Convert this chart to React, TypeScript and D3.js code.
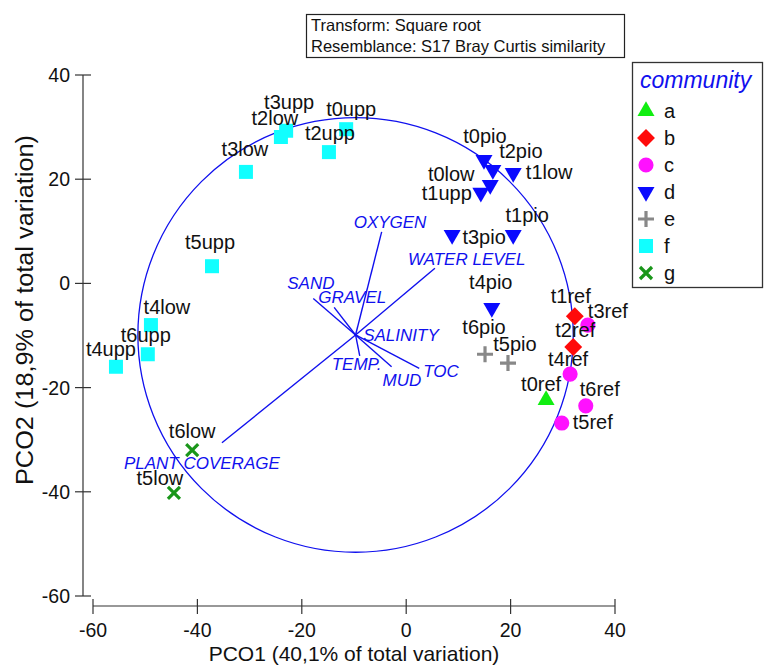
import React from "react";
import * as d3 from "d3";

// ---------- data ----------
const sampleNames = [
  "t0upp", "t2upp", "t3upp", "t2low", "t3low", "t5upp", "t4low", "t6upp", "t4upp",
  "t6low", "t5low",
  "t0pio", "t2pio", "t1low", "t0low", "t1upp", "t3pio", "t1pio", "t4pio",
  "t6pio", "t5pio",
  "t3ref", "t4ref", "t6ref", "t5ref",
  "t1ref", "t2ref",
  "t0ref",
];
const sampleCommunity = [
  "f", "f", "f", "f", "f", "f", "f", "f", "f",
  "g", "g",
  "d", "d", "d", "d", "d", "d", "d", "d",
  "e", "e",
  "c", "c", "c", "c",
  "b", "b",
  "a",
];
const pco1 = [
  -11.5, -14.8, -23.0, -24.0, -30.7, -37.2, -48.9, -49.5, -55.6,
  -41.0, -44.5,
  14.9, 16.6, 20.5, 16.1, 14.3, 8.8, 20.5, 16.4,
  15.1, 19.5,
  34.8, 31.4, 34.4, 29.8,
  32.3, 32.0,
  26.8,
];
const pco2 = [
  29.6, 25.2, 29.3, 28.1, 21.4, 3.3, -8.0, -13.6, -16.0,
  -32.0, -40.2,
  23.7, 21.8, 21.2, 18.9, 17.4, 9.3, 9.3, -4.7,
  -13.6, -15.3,
  -8.0, -17.4, -23.5, -26.8,
  -6.3, -12.2,
  -22.4,
];

const communityKeys = ["a", "b", "c", "d", "e", "f", "g"];

const vectorNames = ["OXYGEN", "WATER LEVEL", "SAND", "GRAVEL", "SALINITY", "TEMP.", "MUD", "TOC", "PLANT COVERAGE"];
const vectorX = [-4.7, 5.5, -17.8, -13.8, -9.2, -8.9, -2.8, 2.5, -35.3];
const vectorY = [9.9, 2.9, -2.9, -4.6, -10.2, -13.9, -16.0, -16.3, -30.6];
const vectorOrigin = [-9.7, -9.9];
const circleRadius = 41.7;

const xTicks = [-60, -40, -20, 0, 20, 40];
const yTicks = [-60, -40, -20, 0, 20, 40];

const xTitle = "PCO1 (40,1% of total variation)";
const yTitle = "PCO2 (18,9% of total variation)";
const infoLines = ["Transform: Square root", "Resemblance: S17 Bray Curtis similarity"];
const legendTitle = "community";

// ---------- layout / style ----------
const W = 765;
const H = 665;
const FONT = "'Liberation Sans', Arial, Helvetica, sans-serif";
const BLUE = "#1010ee";

const colors: Record<string, string> = {
  a: "#11ee11",
  b: "#ff0a0a",
  c: "#ff11ff",
  d: "#0a0aff",
  e: "#888888",
  f: "#11ffff",
  g: "#1a961a",
};

// label offsets (px): [dx of label centre, dy of baseline] relative to the point
const labelOffsets: Record<string, [number, number]> = {
  t0upp: [5, -13], t2upp: [1, -12], t3upp: [3, -22], t2low: [-6, -12], t3low: [-1, -16],
  t5upp: [-2, -17], t4low: [16, -11], t6upp: [-2, -12], t4upp: [-5, -11],
  t6low: [0, -12], t5low: [-14, -8],
  t0pio: [1, -17], t2pio: [28, -12], t1low: [36, 6], t0low: [-39, -4], t1upp: [-34, 7],
  t3pio: [32, 9], t1pio: [14, -13], t4pio: [-1, -19],
  t6pio: [-1, -20], t5pio: [7, -12],
  t3ref: [20, -7], t4ref: [-2, -8], t6ref: [14, -10], t5ref: [31, 6],
  t1ref: [-4, -13], t2ref: [2, -10], t0ref: [-5, -9],
};
// vector label offsets (px): start of text relative to arrow tip
const vectorLabelOffsets: Record<string, [number, number]> = {
  OXYGEN: [-28, -4],
  "WATER LEVEL": [-27, -3],
  SAND: [-26, -10],
  GRAVEL: [-16, -4],
  SALINITY: [5, 4],
  "TEMP.": [-28, 14],
  MUD: [-9, 19],
  TOC: [4, 9],
  "PLANT COVERAGE": [-98, 26],
};

const x = d3.scaleLinear().domain([-60, 40]).range([93, 615]);
const y = d3.scaleLinear().domain([-60, 40]).range([596, 75]);

function Marker({ k, cx, cy }: { k: string; cx: number; cy: number }) {
  const c = colors[k];
  const tr = `translate(${cx},${cy})`;
  if (k === "a") {
    return <path transform={tr} d={d3.symbol(d3.symbolTriangle, 125)()!} fill={c} />;
  }
  if (k === "d") {
    return <path transform={`${tr} rotate(180)`} d={d3.symbol(d3.symbolTriangle, 125)()!} fill={c} />;
  }
  if (k === "b") {
    return <path transform={`${tr} rotate(45)`} d={d3.symbol(d3.symbolSquare, 160)()!} fill={c} />;
  }
  if (k === "c") {
    return <path transform={tr} d={d3.symbol(d3.symbolCircle, 180)()!} fill={c} />;
  }
  if (k === "f") {
    return <path transform={tr} d={d3.symbol(d3.symbolSquare, 196)()!} fill={c} />;
  }
  if (k === "e") {
    const s = 8;
    return (
      <path transform={tr} d={`M${-s},0H${s}M0,${-s}V${s}`} stroke={c} strokeWidth={3.2} fill="none" />
    );
  }
  const s = 6;
  return (
    <path transform={tr} d={`M${-s},${-s}L${s},${s}M${-s},${s}L${s},${-s}`} stroke={c} strokeWidth={3.2} fill="none" />
  );
}

export default function App() {
  const axisColor = "#333";
  const ox = x(vectorOrigin[0]);
  const oy = y(vectorOrigin[1]);
  const rPx = x(circleRadius) - x(0);
  const rPy = y(0) - y(circleRadius);
  const xAxisY = 606;
  const yAxisX = 83;

  const drawOrder = sampleNames.map((_, i) => i);

  return (
    <svg width={W} height={H} style={{ position: "absolute", left: 0, top: 0, background: "#fff" }} fontFamily={FONT}>
      <rect x={0} y={0} width={W} height={H} fill="#fff" />

      {/* info box */}
      <rect x={306.5} y={14.5} width={318} height={43} fill="none" stroke="#222" strokeWidth={1.2} />
      {infoLines.map((t, i) => (
        <text key={t} x={311} y={31 + i * 21} fontSize={16.5} fill="#111">{t}</text>
      ))}

      {/* axes */}
      <line x1={yAxisX} x2={yAxisX} y1={y(40)} y2={y(-60)} stroke={axisColor} strokeWidth={1.2} />
      {yTicks.map((t) => (
        <g key={"y" + t}>
          <line x1={yAxisX - 8} x2={yAxisX + 8} y1={y(t)} y2={y(t)} stroke={axisColor} strokeWidth={1.2} />
          <text x={yAxisX - 13} y={y(t) + 7} textAnchor="end" fontSize={19.5} fill="#111">{t}</text>
        </g>
      ))}
      <line x1={x(-60)} x2={x(40)} y1={xAxisY} y2={xAxisY} stroke={axisColor} strokeWidth={1.2} />
      {xTicks.map((t) => (
        <g key={"x" + t}>
          <line x1={x(t)} x2={x(t)} y1={xAxisY - 7} y2={xAxisY + 8} stroke={axisColor} strokeWidth={1.2} />
          <text x={x(t)} y={xAxisY + 31} textAnchor="middle" fontSize={19.5} fill="#111">{t}</text>
        </g>
      ))}
      <text x={354} y={661} textAnchor="middle" fontSize={21} fill="#111">{xTitle}</text>
      <text transform={`translate(33,310) rotate(-90)`} textAnchor="middle" fontSize={23} fill="#111"
        textLength={350} lengthAdjust="spacingAndGlyphs">{yTitle}</text>

      {/* correlation circle and vectors */}
      <ellipse cx={ox} cy={oy} rx={rPx} ry={rPy} fill="none" stroke={BLUE} strokeWidth={1.3} />
      {vectorNames.map((n, i) => (
        <line key={n} x1={ox} y1={oy} x2={x(vectorX[i])} y2={y(vectorY[i])} stroke={BLUE} strokeWidth={1.4} />
      ))}
      {vectorNames.map((n, i) => {
        const [dx, dy] = vectorLabelOffsets[n];
        return (
          <text key={"vl" + n} x={x(vectorX[i]) + dx} y={y(vectorY[i]) + dy} fontSize={17} fontStyle="italic" fill={BLUE}>
            {n}
          </text>
        );
      })}

      {/* points */}
      {drawOrder.map((i) => (
        <Marker key={"m" + i} k={sampleCommunity[i]} cx={x(pco1[i])} cy={y(pco2[i])} />
      ))}
      {drawOrder.map((i) => {
        const [dx, dy] = labelOffsets[sampleNames[i]] || [0, -13];
        return (
          <text key={"l" + i} x={x(pco1[i]) + dx} y={y(pco2[i]) + dy} textAnchor="middle" fontSize={20} fill="#111">
            {sampleNames[i]}
          </text>
        );
      })}

      {/* legend */}
      <rect x={632.5} y={62.5} width={130} height={225} fill="#fff" stroke="#333" strokeWidth={1.3} />
      <text x={640} y={88} fontSize={23} fontStyle="italic" fill={BLUE}>{legendTitle}</text>
      {communityKeys.map((k, i) => (
        <g key={"lg" + k}>
          <Marker k={k} cx={646} cy={111 + i * 27} />
          <text x={664} y={118 + i * 27} fontSize={20} fill="#111">{k}</text>
        </g>
      ))}
    </svg>
  );
}
